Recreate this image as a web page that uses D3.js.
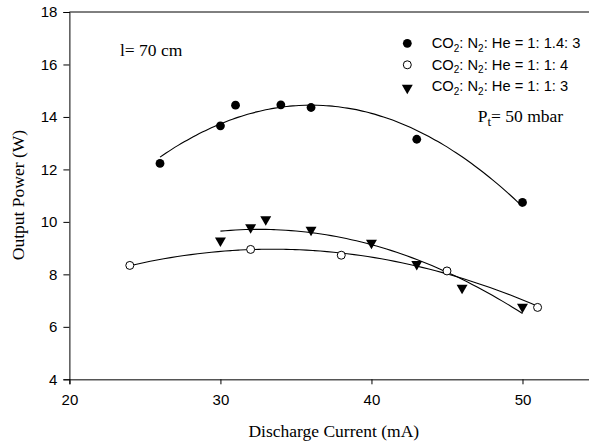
<!DOCTYPE html>
<html>
<head>
<meta charset="utf-8">
<script src="https://cdn.jsdelivr.net/npm/d3@7"></script>
<style>
  body { margin: 0; background: #fff; }
  svg { display: block; }
  .tick text { font-family: "Liberation Sans", Arial, sans-serif; font-size: 15px; fill: #000; }
  .legend { font-family: "Liberation Sans", Arial, sans-serif; font-size: 14.7px; }
</style>
</head>
<body>
<svg class="chart"></svg>
<script>
// CO2:N2:He = 1:1.4:3
var currentA = [26, 30, 31, 34, 36, 43, 50];
var powerA   = [12.23, 13.66, 14.45, 14.46, 14.36, 13.15, 10.74];
// CO2:N2:He = 1:1:4
var currentB = [24, 32, 38, 45, 51];
var powerB   = [8.34, 8.95, 8.73, 8.13, 6.74];
// CO2:N2:He = 1:1:3
var currentC = [30, 32, 33, 36, 40, 43, 46, 50];
var powerC   = [9.28, 9.79, 10.09, 9.69, 9.2, 8.39, 7.48, 6.76];

var xTicks = [20, 30, 40, 50];
var yTicks = [4, 6, 8, 10, 12, 14, 16, 18];
var legendLabels = [
	{ base: ["CO", "2", ": N", "2", ": He = 1: 1.4: 3"], symbol: "filled" },
	{ base: ["CO", "2", ": N", "2", ": He = 1: 1: 4"], symbol: "open" },
	{ base: ["CO", "2", ": N", "2", ": He = 1: 1: 3"], symbol: "triangle" }
];

var width = 589, height = 443;
var serif = '"Liberation Serif", "Times New Roman", serif';

var svg = d3.select("svg.chart")
	.attr("width", width)
	.attr("height", height);

var x = d3.scaleLinear().domain([20, 55]).range([69.4, 598]);
var y = d3.scaleLinear().domain([4, 18]).range([379.3, 12]);

// least squares quadratic fit, like the regression lines in the plot
function quadFit(xs, ys) {
	var n = xs.length, s = [0, 0, 0, 0, 0], t = [0, 0, 0];
	for (var i = 0; i < n; i++) {
		var p = 1;
		for (var k = 0; k < 5; k++) { s[k] += p; if (k < 3) t[k] += p * ys[i]; p *= xs[i]; }
	}
	var m = [[s[0], s[1], s[2], t[0]], [s[1], s[2], s[3], t[1]], [s[2], s[3], s[4], t[2]]];
	for (var c = 0; c < 3; c++) {
		for (var r = c + 1; r < 3; r++) {
			var f = m[r][c] / m[c][c];
			for (var j = c; j < 4; j++) m[r][j] -= f * m[c][j];
		}
	}
	var a = [0, 0, 0];
	for (var r2 = 2; r2 >= 0; r2--) {
		var v = m[r2][3];
		for (var j2 = r2 + 1; j2 < 3; j2++) v -= m[r2][j2] * a[j2];
		a[r2] = v / m[r2][r2];
	}
	return function(v) { return a[0] + a[1] * v + a[2] * v * v; };
}

function fitLine(xs, ys) {
	var f = quadFit(xs, ys);
	var lo = d3.min(xs), hi = d3.max(xs);
	var pts = d3.range(lo, hi + 0.001, (hi - lo) / 60).map(function(v) { return [v, f(v)]; });
	svg.append("path")
		.datum(pts)
		.attr("fill", "none")
		.attr("stroke", "#000")
		.attr("stroke-width", 1.1)
		.attr("d", d3.line().x(function(d) { return x(d[0]); }).y(function(d) { return y(d[1]); }).curve(d3.curveMonotoneX));
}

fitLine(currentA, powerA);
fitLine(currentB, powerB);
fitLine(currentC, powerC);

// axes
var xAxis = svg.append("g")
	.attr("transform", "translate(0," + y(4) + ")")
	.call(d3.axisBottom(x).tickValues(xTicks).tickSize(5).tickPadding(10));
xAxis.select(".domain").attr("stroke", "#555").attr("stroke-width", 1.6);
xAxis.selectAll(".tick line").attr("stroke", "#000");

var yAxis = svg.append("g")
	.attr("transform", "translate(" + x(20) + ",0)")
	.call(d3.axisLeft(y).tickValues(yTicks).tickSize(6).tickPadding(6));
yAxis.select(".domain").attr("stroke", "#000");

svg.append("line")
	.attr("x1", x(20)).attr("x2", x(55))
	.attr("y1", y(18)).attr("y2", y(18))
	.attr("stroke", "#000");

// markers
var tri = d3.symbol().type(d3.symbolTriangle).size(52);

function drawSymbol(g, kind, cx, cy) {
	if (kind === "filled") {
		g.append("circle").attr("cx", cx).attr("cy", cy).attr("r", 4.4).attr("fill", "#000");
	} else if (kind === "open") {
		g.append("circle").attr("cx", cx).attr("cy", cy).attr("r", 4).attr("fill", "#fff").attr("stroke", "#000").attr("stroke-width", 1);
	} else {
		g.append("path").attr("d", tri).attr("transform", "translate(" + cx + "," + cy + ") rotate(180)").attr("fill", "#000");
	}
}

var marks = svg.append("g");
currentA.forEach(function(v, i) { drawSymbol(marks, "filled", x(v), y(powerA[i])); });
currentB.forEach(function(v, i) { drawSymbol(marks, "open", x(v), y(powerB[i])); });
currentC.forEach(function(v, i) { drawSymbol(marks, "triangle", x(v), y(powerC[i])); });

// legend
var legend = svg.append("g");
legendLabels.forEach(function(item, i) {
	var cy = 43.3 + i * 21.5;
	drawSymbol(legend, item.symbol, 407.3, item.symbol === "triangle" ? cy + 1.5 : cy);
	var t = legend.append("text").attr("class", "legend").attr("x", 431.7).attr("y", cy + 5);
	item.base.forEach(function(part, j) {
		var span = t.append("tspan").text(part);
		if (j % 2 === 1) {
			span.attr("font-size", "10px").attr("dy", 3.5);
		} else if (j > 0) {
			span.attr("dy", -3.5);
		}
	});
});

// annotations
svg.append("text").attr("font-family", serif).attr("font-size", 17.5)
	.attr("x", 120).attr("y", 56).text("l= 70 cm");

var pt = svg.append("text").attr("font-family", serif).attr("font-size", 17.5)
	.attr("x", 477.7).attr("y", 121.7);
pt.append("tspan").text("P");
pt.append("tspan").attr("font-size", "13px").attr("dy", 4).text("t");
pt.append("tspan").attr("dy", -4).text("= 50 mbar");

// axis titles
svg.append("text").attr("font-family", serif).attr("font-size", 17.5)
	.attr("x", 333.8).attr("y", 437.3)
	.attr("text-anchor", "middle")
	.text("Discharge Current (mA)");

svg.append("text").attr("font-family", serif).attr("font-size", 17.5)
	.attr("transform", "translate(24," + 195 + ") rotate(-90)")
	.attr("text-anchor", "middle")
	.text("Output Power (W)");
</script>
</body>
</html>
